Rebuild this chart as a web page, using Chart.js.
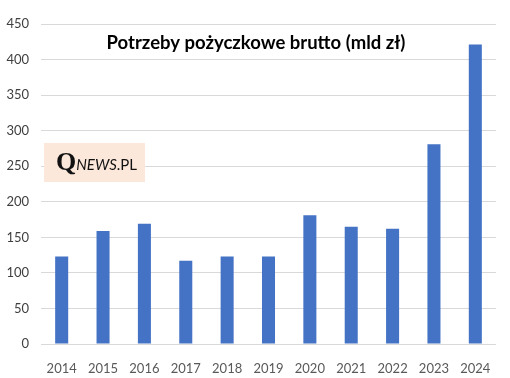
<!DOCTYPE html>
<html>
<head>
<meta charset="utf-8">
<script src="https://cdn.jsdelivr.net/npm/chart.js@4"></script>
<style>
  html, body { margin: 0; padding: 0; background: #fff; }
  #wrap { width: 510px; height: 378px; position: relative; }
</style>
</head>
<body>
<div id="wrap"><canvas id="chart" width="510" height="378"></canvas></div>
<script>
// Dane: potrzeby pożyczkowe brutto, mld zł
const years = ['2014', '2015', '2016', '2017', '2018', '2019', '2020', '2021', '2022', '2023', '2024'];
const borrowingNeeds = [123, 159, 169, 117, 123, 123, 181, 165, 162, 281, 421];
const yTicks = [0, 50, 100, 150, 200, 250, 300, 350, 400, 450];

const chartTitle = 'Potrzeby pożyczkowe brutto (mld zł)';

// title and logo box drawn over the plot area, like in the original
const overlay = {
    id: 'overlay',
    afterDraw(chart) {
        const ctx = chart.ctx;
        ctx.save();
        ctx.fillStyle = '#000';
        ctx.font = 'bold 18.5px Lato';
        ctx.textAlign = 'center';
        ctx.textBaseline = 'middle';
        ctx.fillText(chartTitle, 256, 43);

        // logo
        ctx.fillStyle = '#fce8da';
        ctx.fillRect(44, 143, 101, 39);
        ctx.textAlign = 'left';
        ctx.textBaseline = 'alphabetic';
        ctx.fillStyle = '#111';
        ctx.font = 'bold 26px "Liberation Serif"';
        ctx.fillText('Q', 56, 170);
        let x = 56 + ctx.measureText('Q').width;
        ctx.font = 'italic 15px Lato';
        ctx.fillText('NEWS', x, 170);
        x += ctx.measureText('NEWS').width;
        ctx.font = '15px Lato';
        ctx.fillText('.PL', x, 170);
        ctx.restore();
    }
};

new Chart(document.getElementById('chart'), {
    type: 'bar',
    data: {
        labels: years,
        datasets: [{
            data: borrowingNeeds,
            backgroundColor: '#4472c4',
            barPercentage: 0.315,
            categoryPercentage: 1
        }]
    },
    options: {
        responsive: false,
        animation: false,
        layout: { padding: { left: 0, right: 14, top: 24, bottom: 0 } },
        plugins: {
            legend: { display: false },
            tooltip: { enabled: false }
        },
        scales: {
            x: {
                grid: { display: false },
                border: { display: false },
                ticks: { color: '#595959', font: { family: 'Lato', size: 13 }, padding: 9, maxRotation: 0 },
                afterFit: s => { s.height = 34; }
            },
            y: {
                min: 0,
                max: 450,
                afterBuildTicks: s => { s.ticks = yTicks.map(v => ({ value: v })); },
                grid: { color: '#d9d9d9', lineWidth: 1, drawTicks: false },
                border: { display: false },
                ticks: { color: '#404040', font: { family: 'Lato', size: 13 }, padding: 12 },
                afterFit: s => { s.width = 41; }
            }
        }
    },
    plugins: [overlay]
});
</script>
</body>
</html>
